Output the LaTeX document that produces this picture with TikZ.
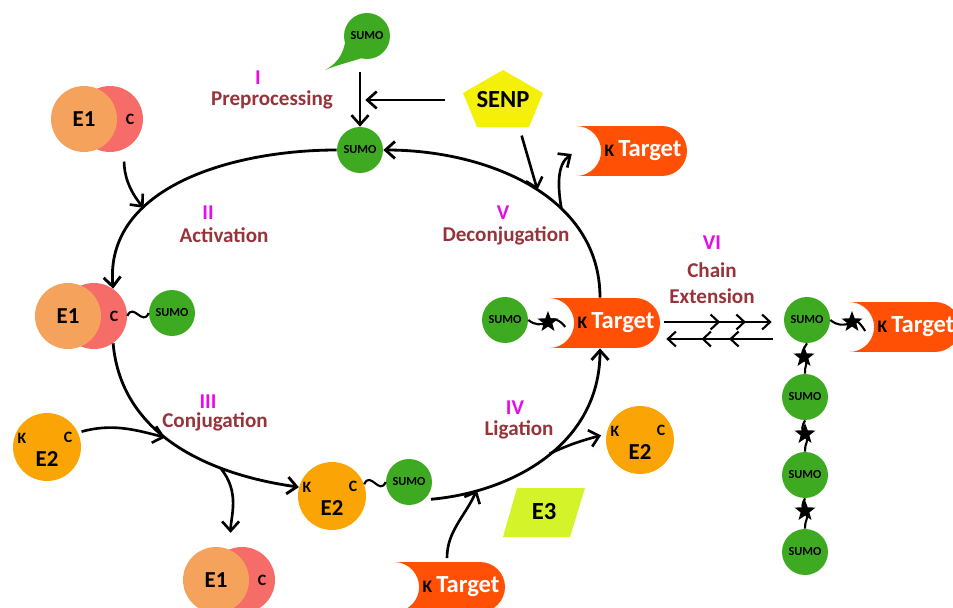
\documentclass[tikz,border=0pt]{standalone}
\usepackage{fontspec}
\setmainfont{Carlito}
\usepackage{tikz}
\usetikzlibrary{arrows.meta,calc,shapes.geometric,shapes.misc,decorations.markings}
\definecolor{sumogreen}{RGB}{62,170,33}
\definecolor{e1orange}{RGB}{245,162,92}
\definecolor{cpink}{RGB}{245,108,104}
\definecolor{e2orange}{RGB}{250,165,5}
\definecolor{tgred}{RGB}{255,80,5}
\definecolor{senpyellow}{RGB}{245,240,10}
\definecolor{e3lime}{RGB}{212,243,40}
\definecolor{numpink}{RGB}{232,10,232}
\definecolor{stepred}{RGB}{150,52,58}

\newcommand{\tgtext}{{\color{black}\fontsize{10}{10}\selectfont K}\,Target}

\begin{document}
\begin{tikzpicture}[x=0.02cm,y=-0.02cm,
  >={Straight Barb[length=1.9mm,width=3.4mm]},
  cyc/.style={line width=1.6pt,->},
  arr/.style={line width=1.5pt,->},
  sumo/.style={circle,fill=sumogreen,minimum size=0.92cm,inner sep=0pt,font=\bfseries\fontsize{7}{7}\selectfont},
  e1box/.style={circle,fill=e1orange,minimum size=1.32cm,inner sep=0pt,font=\bfseries\fontsize{13}{13}\selectfont},
  cbox/.style={circle,fill=cpink,minimum size=1.32cm,inner sep=0pt,
    label={[font=\bfseries\fontsize{9}{9}\selectfont,xshift=0.4cm]center:C}},
  e2box/.style={circle,fill=e2orange,minimum size=1.36cm,inner sep=0pt,
    label={[font=\bfseries\fontsize{13}{13}\selectfont,yshift=-0.24cm]center:E2},
    label={[font=\bfseries\fontsize{9}{9}\selectfont,shift={(-0.5cm,0.18cm)}]center:K},
    label={[font=\bfseries\fontsize{9}{9}\selectfont,shift={(0.42cm,0.2cm)}]center:C}},
  target/.style={rounded rectangle,rounded rectangle left arc=concave,fill=tgred,text=white,
    font=\bfseries\fontsize{14}{14}\selectfont,minimum height=1cm,inner sep=2pt},
  link/.style={line width=1.2pt},
  bond/.style={star,star points=5,star point ratio=2.4,fill=black,minimum size=0.44cm,inner sep=0pt},
  num/.style={text=numpink,font=\bfseries\fontsize{12}{12}\selectfont},
  stage/.style={text=stepred,font=\bfseries\fontsize{12}{14.5}\selectfont,align=center},
  fwd/.style={line width=1.2pt,-{Straight Barb[length=1.6mm,width=3mm]},postaction={decorate},
    decoration={markings,
      mark=at position 0.52 with {\arrow{Straight Barb[length=1.6mm,width=3mm]}},
      mark=at position 0.76 with {\arrow{Straight Barb[length=1.6mm,width=3mm]}}}},
  bwd/.style={line width=1.2pt,-{Straight Barb[length=1.6mm,width=3mm]},postaction={decorate},
    decoration={markings,
      mark=at position 0.41 with {\arrow{Straight Barb[length=1.6mm,width=3mm]}},
      mark=at position 0.67 with {\arrow{Straight Barb[length=1.6mm,width=3mm]}}}}
]
\useasboundingbox (0,0) rectangle (953,608);

% Free SUMO precursor (drop) and SENP
\fill[sumogreen] (325,70) .. controls (340,62) and (346,50) .. (346,30) -- (367,36) -- (362,58)
  .. controls (350,62) and (337,65) .. (325,70) -- cycle;
\node[sumo] (sumoTop) at (367,36) {SUMO};
\fill[senpyellow] (503,70) -- (543,93) -- (529,127) -- (477,127) -- (463,93) -- cycle;
\node[font=\bfseries\fontsize{14}{14}\selectfont,minimum width=1.6cm,minimum height=1.14cm] (senp) at (503,100) {SENP};

% Mature SUMO
\node[sumo] (sumo0) at (360,150) {SUMO};

% E1 complexes
\node[cbox] (c1a) at (110,119) {};
\node[e1box] (e1a) at (84,119) {E1};
\node[cbox] (c1b) at (94,316) {};
\node[e1box] (e1b) at (68,316) {E1};
\node[sumo] (sumo1) at (172,313) {SUMO};
\node[cbox] (c1c) at (242,580) {};
\node[e1box] (e1c) at (216,580) {E1};

% E2 enzymes
\node[e2box] (e2a) at (47,447) {};
\node[e2box] (e2b) at (332,496) {};
\node[sumo] (sumo2) at (409,482) {SUMO};
\node[e2box] (e2c) at (640,440) {};

% E3 ligase
\fill[e3lime] (517,488) -- (585,488) -- (570,537) -- (503,537) -- cycle;
\node[font=\bfseries\fontsize{14}{14}\selectfont] (e3) at (544,512) {E3};

% Targets
\node[target] (tgA) at (616,323) {\tgtext};
\node[target] (tgB) at (643,151) {\tgtext};
\node[target] (tgC) at (461,587) {\tgtext};
\node[target] (tgD) at (916,327) {\tgtext};
\node[sumo] (sumo3) at (505,320) {SUMO};

% Poly-SUMO chain
\node[sumo] (ch1) at (807,320) {SUMO};
\node[sumo] (ch2) at (805,397) {SUMO};
\node[sumo] (ch3) at (805,475) {SUMO};
\node[sumo] (ch4) at (805,552) {SUMO};

% Stage labels
\node[num] (n1) at (258,78) {I};
\node[stage] (s1) at (272,100) {Preprocessing};
\node[num] (n2) at (208,213) {II};
\node[stage] (s2) at (224,235) {Activation};
\node[num] (n3) at (208,402) {III};
\node[stage] (s3) at (215,422) {Conjugation};
\node[num] (n4) at (515,408) {IV};
\node[stage] (s4) at (519,430) {Ligation};
\node[num] (n5) at (503,213) {V};
\node[stage] (s5) at (506,236) {Deconjugation};
\node[num] (n6) at (712,243) {VI};
\node[stage] (s6) at (712,283) {Chain\\Extension};

% Cycle
\draw[cyc] (sumo0.west) to[out=180,in=95] coordinate[pos=0.67] (actIn) (c1b.55);
\draw[cyc] (c1b.-55) to[out=-85,in=172] coordinate[pos=0.45] (conjIn) coordinate[pos=0.7] (conjOut) (e2b.165);
\draw[cyc,shorten <=4pt] (sumo2.-50) .. controls +(90,-8) and +(0,95) .. (tgA.south -| 600,0)
  coordinate[pos=0.2] (ligIn) coordinate[pos=0.52] (ligOut);
\draw[cyc] (tgA.north -| 600,0) to[out=90,in=0] coordinate[pos=0.36] (deconjOut) coordinate[pos=0.47] (senpIn) (sumo0.east);

% Side arrows
\draw[arr,shorten <=7pt] (sumoTop.south -| sumo0.north) -- (sumo0.north);
\draw[arr,shorten <=10pt,shorten >=3pt] (senp.west) -- (senp.west -| sumo0.north);
\draw[arr,shorten <=4pt] (senp.-60) -- (senpIn);
\draw[arr,shorten <=7pt] (c1a.-65) to[out=-90,in=130] (actIn);
\draw[arr,shorten <=2pt] (e2a.25) to[out=15,in=165] (conjIn);
\draw[arr,shorten >=9pt] (conjOut) to[out=-50,in=90] (c1c.110);
\draw[arr,shorten <=2pt] (tgC.north -| 447,0) to[out=90,in=-115] (ligIn);
\draw[arr,shorten >=3pt] (ligOut) to[out=25,in=195] (e2c.170);
\draw[arr,shorten >=3pt] (deconjOut) to[out=100,in=215] (tgB.west);

% Thioester and isopeptide bonds
\draw[link] (c1b.east) .. controls +(6,-14) and +(-6,14) .. (sumo1.west);
\draw[link] (e2b.20) .. controls +(6,-14) and +(-6,14) .. (sumo2.west);
\node[bond] (bdA) at (548,322) {};
\draw[link] (sumo3.east) to[out=-40,in=210] (bdA.center);
\draw[link] (bdA.center) to[out=60,in=120] ($(tgA.west)+(16,4)$);
\node[bond] (bdB) at (852,322) {};
\draw[link] (ch1.east) to[out=-40,in=210] (bdB.center);
\draw[link] (bdB.center) to[out=60,in=120] ($(tgD.west)+(16,4)$);
\node[bond] (bd1) at (804,357) {};
\draw[link] (ch1.south) to[out=-120,in=150] (bd1.center) to[out=-30,in=100] (ch2.north);
\node[bond] (bd2) at (805,434) {};
\draw[link] (ch2.south) to[out=-120,in=150] (bd2.center) to[out=-30,in=100] (ch3.north);
\node[bond] (bd3) at (805,511) {};
\draw[link] (ch3.south) to[out=-120,in=150] (bd3.center) to[out=-30,in=100] (ch4.north);

% Chain extension arrows
\draw[fwd] ($(tgA.east)+(4,-1)$) -- ($(ch1.west)+(-12,2)$);
\draw[bwd] ($(ch1.west)+(-11,19)$) -- ($(tgA.east)+(6,16)$);
\end{tikzpicture}
\end{document}
